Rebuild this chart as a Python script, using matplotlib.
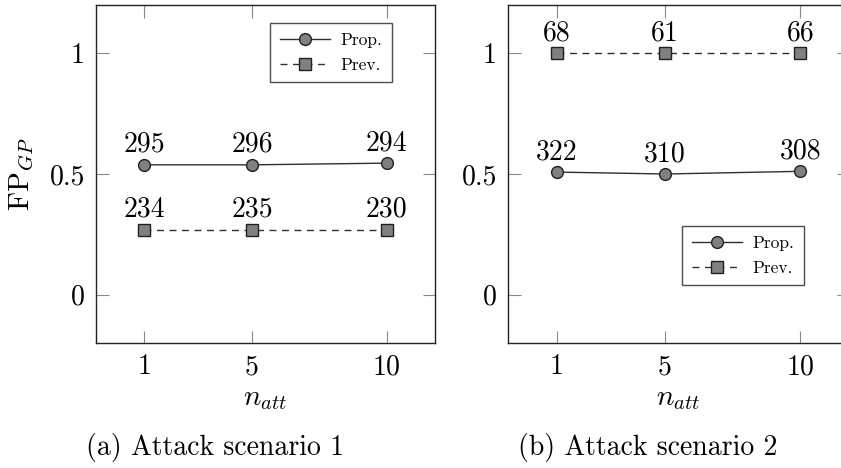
import numpy as np
import matplotlib
matplotlib.use("Agg")
import matplotlib.pyplot as plt

plt.rcParams['font.family'] = 'serif'
plt.rcParams['font.serif'] = ['cmr10', 'DejaVu Serif']
plt.rcParams['mathtext.fontset'] = 'cm'
plt.rcParams['axes.formatter.use_mathtext'] = True

# data
n_att = [1, 5, 10]
prop_1 = [0.538, 0.538, 0.545]
prev_1 = [0.27, 0.27, 0.27]
prop_1_lbl = ["295", "296", "294"]
prev_1_lbl = ["234", "235", "230"]
prop_2 = [0.508, 0.500, 0.511]
prev_2 = [1.0, 1.0, 1.0]
prop_2_lbl = ["322", "310", "308"]
prev_2_lbl = ["68", "61", "66"]
captions = ["(a) Attack scenario 1", "(b) Attack scenario 2"]

W, H = 841, 468
fig = plt.figure(figsize=(W / 100, H / 100), dpi=100)

def px(x0, y0, x1, y1):
	return [x0 / W, 1 - y1 / H, (x1 - x0) / W, (y1 - y0) / H]

fill = '#808080'
edge = '#202020'
fs = 20

def panel(rect, prop, prev, plbl, vlbl, anchor, caption, cap_x, ylabel):
	ax = fig.add_axes(rect)
	ax.plot(n_att, prop, '-', color='#303030', lw=1.0, marker='o', ms=8.5,
		mfc=fill, mec=edge, mew=1.0, label='Prop.')
	ax.plot(n_att, prev, '--', color='#303030', lw=1.0, marker='s', ms=8,
		mfc=fill, mec=edge, mew=1.0, label='Prev.', dashes=(5, 4))
	for x, y, t in zip(n_att, prop, plbl):
		ax.annotate(t, (x, y), xytext=(0, 5), textcoords='offset points',
			ha='center', va='bottom', fontsize=fs)
	for x, y, t in zip(n_att, prev, vlbl):
		ax.annotate(t, (x, y), xytext=(0, 5), textcoords='offset points',
			ha='center', va='bottom', fontsize=fs)
	ax.set_xlim(-0.8, 11.8)
	ax.set_ylim(-0.2, 1.2)
	ax.set_xticks(n_att)
	ax.set_xticklabels([str(v) for v in n_att])
	ax.set_yticks([0, 0.5, 1])
	ax.set_yticklabels(['0', '0.5', '1'])
	ax.tick_params(direction='in', length=9, width=0.8, color='#888888',
		top=True, right=True, labelsize=fs, pad=8)
	for s in ax.spines.values():
		s.set_color('#222222')
		s.set_linewidth(1.0)
	ax.set_xlabel(r'$n_{att}$', fontsize=21, labelpad=4)
	if ylabel:
		ax.set_ylabel(r'$\mathrm{FP}_{GP}$', fontsize=21, labelpad=10)
	leg = ax.legend(loc='upper right', bbox_to_anchor=anchor, fontsize=12.5,
		handlelength=2.9, frameon=True, fancybox=False, edgecolor='#222222',
		borderpad=0.55, labelspacing=0.55, handletextpad=0.6, borderaxespad=0)
	leg.get_frame().set_linewidth(1.0)
	fig.text(cap_x / W, 1 - 448 / H, caption, ha='center', va='center', fontsize=fs)
	return ax

ax1 = panel(px(96, 5, 435, 343), prop_1, prev_1, prop_1_lbl, prev_1_lbl,
	(0.873, 0.947), captions[0], 215, True)
ax2 = panel(px(508, 5, 849, 343), prop_2, prev_2, prop_2_lbl, prev_2_lbl,
	(0.868, 0.346), captions[1], 648, False)

fig.savefig('out.png', dpi=100)
